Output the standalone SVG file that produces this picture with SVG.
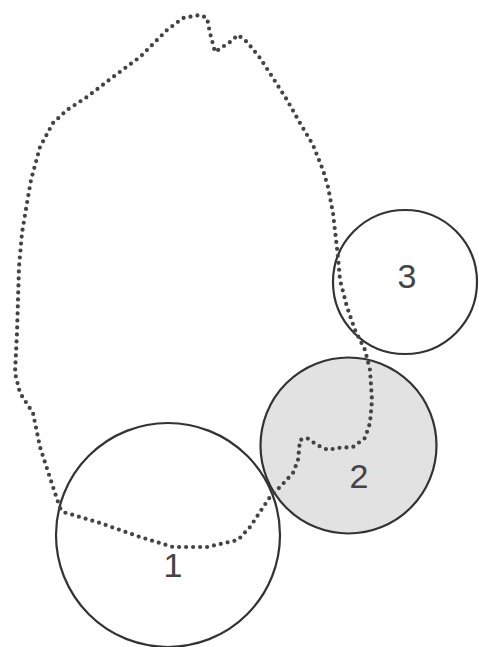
<svg xmlns="http://www.w3.org/2000/svg" width="479" height="647" viewBox="0 0 479 647">
<style>
.c{stroke:#333;stroke-width:2.2;fill:none}
.c2{fill:#e2e2e2}
.lbl{font-family:"Liberation Sans",Arial,sans-serif;font-size:34px;fill:#444;text-anchor:middle}
.dot{fill:none;stroke:#444;stroke-width:4.2;stroke-linecap:round;stroke-linejoin:round;stroke-dasharray:0 7}
</style>
<rect width="479" height="647" fill="#fff"/>
<g id="node-2"><circle class="c c2" cx="348.5" cy="445.5" r="88"/><text class="lbl" x="359" y="488">2</text></g>
<g id="node-1"><circle class="c" cx="168" cy="535" r="112"/><text class="lbl" x="173" y="577">1</text></g>
<g id="node-3"><circle class="c" cx="405" cy="282" r="72"/><text class="lbl" x="407" y="288">3</text></g>
<g id="connectors">
<path class="dot" d="M60,508 L53,487 L40,447 L33,413 L20,393 L15,373 L17,333 L19,267 L22,233 L27,203 L31,180 L40,147 L53,123 L67,110 L87,97 L113,77 L140,57 L167,30 L183,18 L200,15 L207,18 L210,33 L215,52 L230,42 L238,35 L247,42 L260,58 L273,78 L287,100 L300,123 L313,145 L323,170 L328,187 L333,213 L338,257 L340,280 L347,307 L355,330 L365,350 L370,370 L372,400 L370,423 L365,438 L353,447 L337,448 L328,450 L317,445 L307,438 L300,440 L298,460 L293,473 L280,487 L270,497 L250,527 L238,540 L207,547 L173,547 L140,537 L100,523 L63,512 Z"/>
</g>
</svg>
